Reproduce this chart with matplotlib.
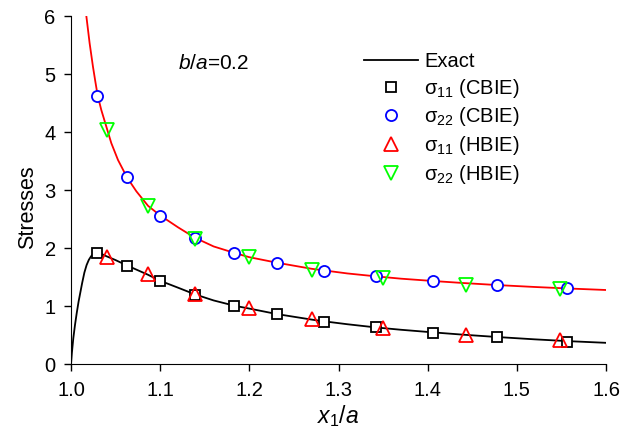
import matplotlib
matplotlib.use("Agg")
import matplotlib.pyplot as plt

plt.rcParams['font.family'] = ['Liberation Sans', 'DejaVu Sans']
plt.rcParams['mathtext.fontset'] = 'custom'
plt.rcParams['mathtext.rm'] = 'Liberation Sans'
plt.rcParams['mathtext.it'] = 'Liberation Sans:italic'

# Exact curves
exact11_x = [1.0, 1.001, 1.0026, 1.0045, 1.0064, 1.0085, 1.010, 1.0125, 1.015, 1.0175,
             1.020, 1.0225, 1.025, 1.029, 1.033, 1.040, 1.05, 1.0625, 1.086, 1.0998,
             1.12, 1.139, 1.16, 1.183, 1.2, 1.231, 1.27, 1.284, 1.31, 1.342, 1.37,
             1.406, 1.44, 1.478, 1.52, 1.556, 1.6]
exact11_y = [0.0, 0.2, 0.45, 0.68, 0.88, 1.08, 1.2, 1.40, 1.58, 1.71,
             1.80, 1.86, 1.90, 1.92, 1.91, 1.86, 1.795, 1.705, 1.545, 1.44,
             1.32, 1.205, 1.10, 1.01, 0.96, 0.865, 0.77, 0.74, 0.69, 0.635, 0.595,
             0.55, 0.51, 0.47, 0.43, 0.40, 0.37]

exact22_x = [1.0172, 1.0209, 1.0246, 1.0273, 1.0299, 1.034, 1.0452, 1.0527, 1.0628,
             1.0733, 1.0864, 1.0995, 1.12, 1.139, 1.16, 1.183, 1.2, 1.231, 1.27,
             1.31, 1.342, 1.37, 1.406, 1.44, 1.478, 1.52, 1.556, 1.6]
exact22_y = [6.0, 5.53, 5.13, 4.87, 4.63, 4.38, 3.81, 3.52, 3.22,
             2.98, 2.73, 2.57, 2.36, 2.18, 2.03, 1.92, 1.845, 1.75, 1.645,
             1.565, 1.515, 1.475, 1.435, 1.40, 1.365, 1.332, 1.307, 1.28]

# CBIE points
cbie_x = [1.029, 1.0625, 1.0998, 1.139, 1.183, 1.231, 1.284, 1.342, 1.406, 1.478, 1.556]
cbie11 = [1.91, 1.70, 1.436, 1.195, 1.01, 0.862, 0.734, 0.638, 0.545, 0.465, 0.39]
cbie22 = [4.63, 3.22, 2.56, 2.18, 1.92, 1.75, 1.61, 1.52, 1.436, 1.36, 1.31]

# HBIE points
hbie_x = [1.040, 1.086, 1.139, 1.1996, 1.270, 1.350, 1.4427, 1.548]
hbie11 = [1.845, 1.557, 1.21, 0.976, 0.787, 0.631, 0.51, 0.41]
hbie22 = [4.04, 2.73, 2.16, 1.84, 1.63, 1.48, 1.37, 1.29]

xticks = [1.0, 1.1, 1.2, 1.3, 1.4, 1.5, 1.6]
yticks = [0, 1, 2, 3, 4, 5, 6]

fig = plt.figure(figsize=(6.32, 4.32), dpi=100)
ax = fig.add_axes([71/632, 1-364.3/432, (606-71)/632, (364.3-16)/432])

ax.plot(exact22_x, exact22_y, color='#ff0000', lw=1.3, zorder=2)
l_exact, = ax.plot(exact11_x, exact11_y, color='black', lw=1.3, zorder=2, label='Exact')

h1, = ax.plot(cbie_x, cbie11, ls='none', marker='s', ms=7.5, mfc='white', mec='black',
              mew=1.3, label='σ$_{11}$ (CBIE)', zorder=3)
h2, = ax.plot(cbie_x, cbie22, ls='none', marker='o', ms=8, mfc='white', mec='#0000ff',
              mew=1.3, label='σ$_{22}$ (CBIE)', zorder=3)
h3, = ax.plot(hbie_x, hbie11, ls='none', marker='^', ms=9.5, mfc='none', mec='#ff0000',
              mew=1.3, label='σ$_{11}$ (HBIE)', zorder=4)
h4, = ax.plot(hbie_x, hbie22, ls='none', marker='v', ms=9.5, mfc='none', mec='#00ff00',
              mew=1.3, label='σ$_{22}$ (HBIE)', zorder=4)

ax.set_xlim(1.0, 1.6)
ax.set_ylim(0, 6)
ax.set_xticks(xticks)
ax.set_xticklabels([f'{v:.1f}' for v in xticks])
ax.set_yticks(yticks)
ax.tick_params(direction='out', length=5, width=1, labelsize=14.5)
ax.tick_params(axis='x', pad=7)
ax.tick_params(axis='y', pad=6)
ax.spines['top'].set_visible(False)
ax.spines['right'].set_visible(False)

ax.set_xlabel('$x_1$/$a$', fontsize=16.5, labelpad=2)
ax.set_ylabel('Stresses', fontsize=15.5)
ax.yaxis.set_label_coords(-0.061, 0.452)

ax.text(1.12, 5.18, '$b$/$a$=0.2', fontsize=15, ha='left', va='center')

leg = ax.legend(handles=[l_exact, h1, h2, h3, h4], loc='upper left',
                bbox_to_anchor=(364/632, 1-52/432), bbox_transform=fig.transFigure,
                frameon=False, fontsize=14.5, handlelength=2.7, handletextpad=0.3,
                labelspacing=0.28, borderaxespad=0, borderpad=0)

fig.savefig('out.png', dpi=100)
